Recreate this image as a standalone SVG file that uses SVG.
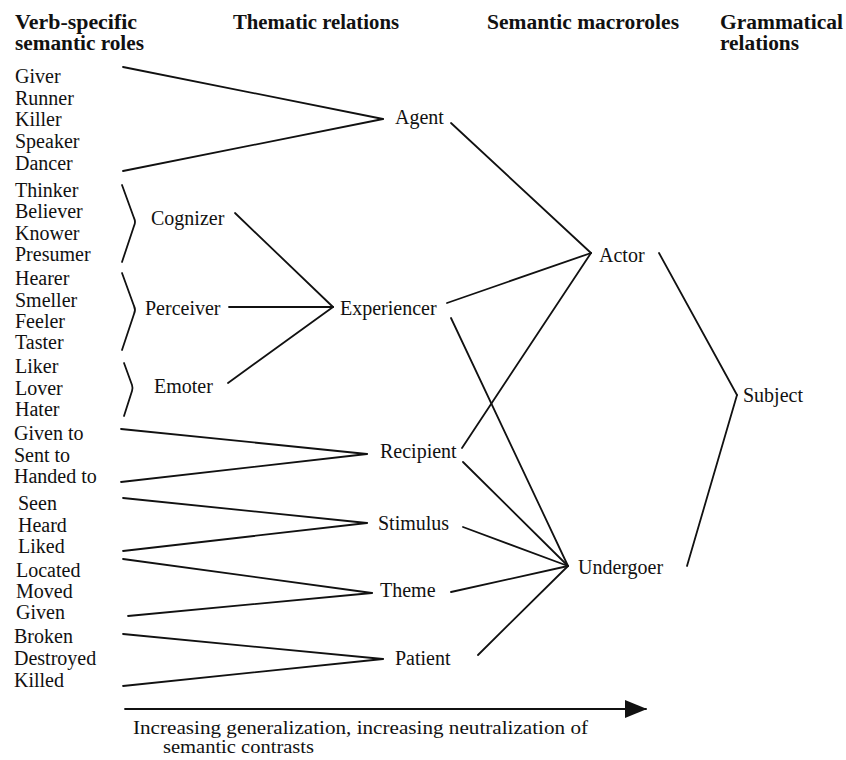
<svg xmlns="http://www.w3.org/2000/svg" width="846" height="760" viewBox="0 0 846 760">
<style>
text{font-family:'Liberation Serif','Times New Roman',serif;font-size:20px;fill:#111}
.h{font-weight:bold}
.cap{font-size:18.5px}
.c line,.c path{stroke:#111;stroke-width:1.8;fill:none;stroke-linecap:round;stroke-linejoin:round}
</style>
<defs>
<marker id="ah" markerWidth="22" markerHeight="18" refX="21" refY="9" orient="auto" markerUnits="userSpaceOnUse">
<path d="M0,0 L22,9 L0,18 Z" fill="#111"/>
</marker>
</defs>
<rect width="846" height="760" fill="#fff"/>
<g id="headers">
<text class="h" x="15" y="29" textLength="122" lengthAdjust="spacingAndGlyphs">Verb-specific</text>
<text class="h" x="15" y="50" textLength="129" lengthAdjust="spacingAndGlyphs">semantic roles</text>
<text class="h" x="233" y="29" textLength="166" lengthAdjust="spacingAndGlyphs">Thematic relations</text>
<text class="h" x="487" y="29" textLength="192" lengthAdjust="spacingAndGlyphs">Semantic macroroles</text>
<text class="h" x="720" y="29" textLength="123" lengthAdjust="spacingAndGlyphs">Grammatical</text>
<text class="h" x="720" y="50" textLength="79" lengthAdjust="spacingAndGlyphs">relations</text>
</g>
<g id="verb-roles">
<text x="15" y="83">Giver</text>
<text x="15" y="105">Runner</text>
<text x="15" y="126">Killer</text>
<text x="15" y="148">Speaker</text>
<text x="15" y="170">Dancer</text>
<text x="15" y="197">Thinker</text>
<text x="15" y="218">Believer</text>
<text x="15" y="240">Knower</text>
<text x="15" y="261">Presumer</text>
<text x="15" y="285">Hearer</text>
<text x="15" y="307">Smeller</text>
<text x="15" y="328">Feeler</text>
<text x="15" y="349">Taster</text>
<text x="15" y="373">Liker</text>
<text x="15" y="395">Lover</text>
<text x="15" y="416">Hater</text>
<text x="14" y="440">Given to</text>
<text x="14" y="462">Sent to</text>
<text x="14" y="483">Handed to</text>
<text x="18" y="510">Seen</text>
<text x="18" y="532">Heard</text>
<text x="18" y="553">Liked</text>
<text x="16" y="577">Located</text>
<text x="16" y="598">Moved</text>
<text x="16" y="619">Given</text>
<text x="14" y="643">Broken</text>
<text x="14" y="665">Destroyed</text>
<text x="14" y="687">Killed</text>
</g>
<g id="sub-thematic">
<text id="cognizer" x="151" y="225">Cognizer</text>
<text id="perceiver" x="145" y="315">Perceiver</text>
<text id="emoter" x="154" y="393">Emoter</text>
</g>
<g id="thematic">
<text id="agent" x="395" y="124">Agent</text>
<text id="experiencer" x="340" y="315">Experiencer</text>
<text id="recipient" x="380" y="458">Recipient</text>
<text id="stimulus" x="378" y="530">Stimulus</text>
<text id="theme" x="380" y="597">Theme</text>
<text id="patient" x="395" y="665">Patient</text>
</g>
<g id="macroroles">
<text id="actor" x="599" y="262">Actor</text>
<text id="undergoer" x="578" y="574">Undergoer</text>
</g>
<g id="grammatical">
<text id="subject" x="743" y="402">Subject</text>
</g>
<g id="connectors" class="c">
<line x1="123" y1="67" x2="383" y2="119"/>
<line x1="123" y1="171" x2="383" y2="119"/>
<path d="M122,185 L134,218 Q136,222 134,226 L122,262"/>
<path d="M122,273 L134,306 Q136,310 134,314 L122,350"/>
<path d="M124,363 L132,385 Q133,388 132,391 L124,416"/>
<line x1="235" y1="213" x2="333" y2="307"/>
<line x1="229" y1="307" x2="333" y2="307"/>
<line x1="228" y1="383" x2="333" y2="307"/>
<line x1="121" y1="429" x2="367" y2="454"/>
<line x1="121" y1="482" x2="367" y2="454"/>
<line x1="123" y1="498" x2="367" y2="523"/>
<line x1="123" y1="551" x2="367" y2="523"/>
<line x1="123" y1="559" x2="372" y2="593"/>
<line x1="128" y1="616" x2="372" y2="593"/>
<line x1="123" y1="634" x2="383" y2="659"/>
<line x1="123" y1="686" x2="383" y2="659"/>
<line x1="451" y1="123" x2="591" y2="253"/>
<line x1="447" y1="303" x2="591" y2="253"/>
<line x1="462" y1="448" x2="591" y2="253"/>
<line x1="451" y1="318" x2="568" y2="566"/>
<line x1="463" y1="462" x2="568" y2="566"/>
<line x1="463" y1="527" x2="568" y2="566"/>
<line x1="451" y1="592" x2="568" y2="566"/>
<line x1="478" y1="655" x2="568" y2="566"/>
<line x1="659" y1="253" x2="737" y2="395"/>
<line x1="687" y1="566" x2="737" y2="395"/>
<line x1="125" y1="709" x2="646" y2="709" marker-end="url(#ah)"/>
</g>
<g id="caption">
<text class="cap" x="133" y="734" textLength="455" lengthAdjust="spacingAndGlyphs">Increasing generalization, increasing neutralization of</text>
<text class="cap" x="163" y="753" textLength="151" lengthAdjust="spacingAndGlyphs">semantic contrasts</text>
</g>
</svg>
